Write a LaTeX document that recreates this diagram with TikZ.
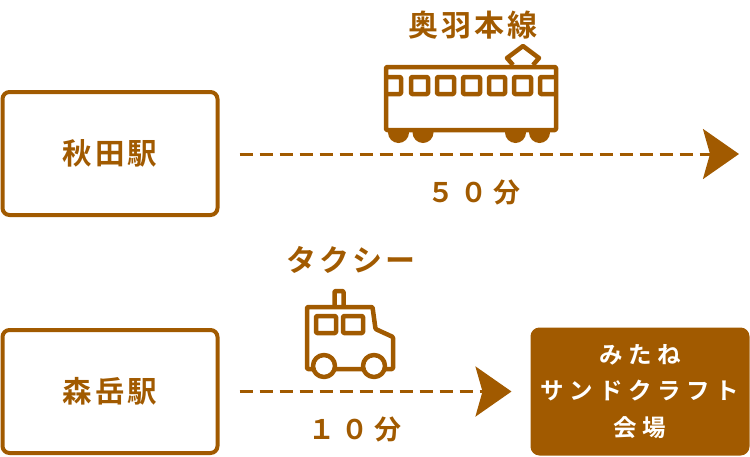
\documentclass[tikz,border=0pt]{standalone}
\usepackage{fontspec}
\setmainfont{Noto Sans CJK JP}[BoldFont={Noto Sans CJK JP Bold}]
\newfontfamily\labelfont{Noto Sans CJK JP Bold}[LetterSpace=10]
\newfontfamily\timefont{Noto Sans CJK JP Bold}[LetterSpace=24]
\newfontfamily\goalfont{Noto Sans CJK JP Bold}[LetterSpace=24]
\usetikzlibrary{arrows.meta}
\definecolor{brownline}{HTML}{A15A00}
\tikzset{
	stationbox/.style={draw=brownline, line width=4pt, rounded corners=7pt, fill=white, minimum width=215pt, minimum height=123pt, inner sep=0pt, text=brownline, font=\labelfont\fontsize{29.5}{30}\selectfont},
	goalbox/.style={draw=brownline, line width=2pt, rounded corners=8pt, fill=brownline, minimum width=217pt, minimum height=126pt, inner sep=0pt, text=white, align=center, font=\goalfont\fontsize{23.5}{36.5}\selectfont},
	titlelabel/.style={text=brownline, inner sep=0pt, font=\labelfont\fontsize{30}{30}\selectfont},
	timelabel/.style={text=brownline, inner sep=0pt, font=\timefont\fontsize{27}{27}\selectfont},
	dashline/.style={draw=brownline, line width=3pt, dash pattern=on 13pt off 7pt, -{Stealth[length=36pt,width=50pt,inset=7pt,fill=brownline]}},
	icon/.style={draw=brownline, line width=4.5pt, rounded corners=1pt, line join=round},
}
\begin{document}
\begin{tikzpicture}[x=1pt, y=-1pt]
	\useasboundingbox (0,0) rectangle (750,456);

	% stations
	\node[stationbox] (akita) at (110,153.5) {秋田駅};
	\node[stationbox] (morioka) at (110,391.5) {森岳駅};
	\node[goalbox] (goal) at (640,391.5) {みたね\\サンドクラフト\\会場};
	\coordinate (lineend) at (739,154);

	% connectors
	\draw[dashline, shorten <=20pt] (akita.east |- lineend) -- (lineend);
	\draw[dashline, shorten <=20pt, shorten >=19pt] (morioka.east) -- (goal.west);

	% labels
	\node[titlelabel] (oulabel) at (473,25) {奥羽本線};
	\node[timelabel] (traintime) at (474,192) {５０分};
	\node[titlelabel] (taxilabel) at (351,260) {タクシー};
	\node[timelabel] (taxitime) at (355,429) {１０分};

	% train
	\fill[brownline] (398.5,132.5) circle (10.5) (423,132.5) circle (10.5) (515.5,132.5) circle (10.5) (539.5,132.5) circle (10.5);
	\draw[draw=brownline, line width=4.5pt, line join=round] (513,65) -- (507,58) -- (523,46) -- (539,58) -- (533,65);
	\filldraw[icon, fill=white] (386,67) rectangle (556,130);
	\draw[icon] (386,77) -- (401,77) -- (401,94) -- (386,94);
	\draw[icon] (411,77) rectangle (428,94);
	\draw[icon] (437,77) rectangle (454,94);
	\draw[icon] (463,77) rectangle (480,94);
	\draw[icon] (489,77) rectangle (505,94);
	\draw[icon] (514,77) rectangle (531,94);
	\draw[icon] (556,77) -- (540,77) -- (540,94) -- (556,94);

	% taxi
	\draw[icon] (334.5,307) -- (334.5,291) -- (343.5,291) -- (343.5,307);
	\draw[icon] (307,369) -- (307,307) -- (372.5,307) -- (375.5,329) -- (393,337) -- (393,369) -- cycle;
	\draw[icon] (316,316) rectangle (336,333);
	\draw[icon] (343,316) rectangle (363,333);
	\filldraw[icon, fill=white] (324,366) circle (11);
	\filldraw[icon, fill=white] (374,366) circle (11);
\end{tikzpicture}
\end{document}
